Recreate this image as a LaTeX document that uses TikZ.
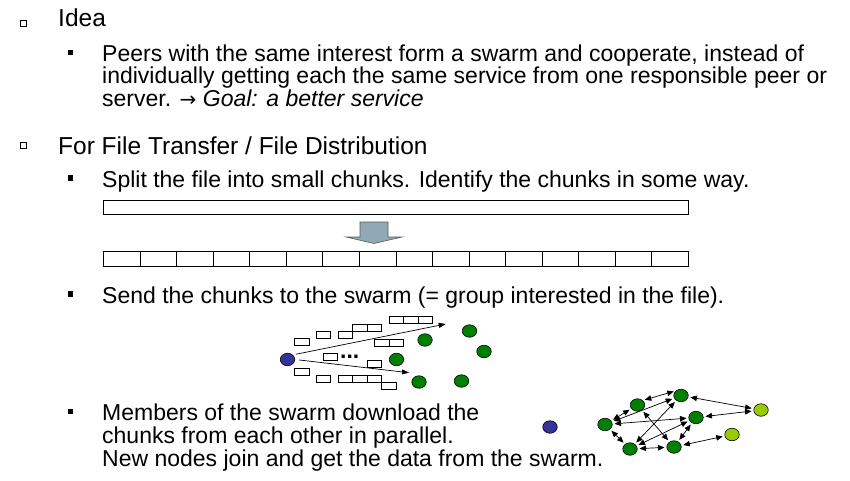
\documentclass[tikz,border=0pt]{standalone}
\usepackage{fontspec}
\setmainfont{Liberation Sans}
\newfontfamily\symbfont{DejaVu Sans}
\usetikzlibrary{arrows.meta,shadows,shapes.geometric}

\definecolor{seedblue}{RGB}{51,51,153}
\definecolor{peergreen}{RGB}{0,128,0}
\definecolor{newgreen}{RGB}{153,204,0}
\definecolor{arrowgray}{RGB}{143,170,180}

\tikzset{
  lvone/.style={anchor=base west, inner sep=0pt, font=\fontsize{24.5}{26}\selectfont},
  lvtwo/.style={anchor=base west, inner sep=0pt, font=\fontsize{23}{23}\selectfont},
  bulone/.style={draw, fill=white, line width=0.6pt, minimum size=5.5pt, inner sep=0pt,
    drop shadow={shadow xshift=1.2pt, shadow yshift=-1.2pt, opacity=1, fill=black}},
  bultwo/.style={fill=black, minimum size=5.5pt, inner sep=0pt},
  chunk/.style={draw, line width=0.7pt, fill=white},
  peer/.style={ellipse, draw, line width=0.6pt, fill=peergreen,
    minimum width=14.5pt, minimum height=12.5pt, inner sep=0pt},
  seed/.style={peer, fill=seedblue},
  newpeer/.style={peer, fill=newgreen},
  send/.style={-{Triangle[length=7pt,width=5pt]}, line width=0.7pt},
  swap/.style={{Triangle[length=6.5pt,width=5.5pt]}-{Triangle[length=6.5pt,width=5.5pt]},
    line width=0.7pt, shorten >=2pt, shorten <=2pt}
}

\begin{document}
\begin{tikzpicture}[x=1pt,y=-1pt]
\useasboundingbox (0,0) rectangle (850,481);

% idea
\node[bulone] (bidea) at (23.5,23.3) {};
\node[lvone] (idea) at (58,26.7) {Idea};
\node[bultwo] (bpeers) at (70.5,52.5) {};
\node[lvtwo] (peers1) at (102,61.3) {Peers with the same interest form a swarm and cooperate, instead of};
\node[lvtwo] (peers2) at (102,84) {individually getting each the same service from one responsible peer or};
\node[lvtwo] (peers3) at (102,106.5) {server. {\symbfont\fontsize{20}{20}\selectfont →} \textit{Goal: a better service}};

% file transfer
\node[bulone] (bfile) at (23.5,145.5) {};
\node[lvone] (filetr) at (58,154.5) {For File Transfer / File Distribution};
\node[bultwo] (bsplit) at (70.5,178) {};
\node[lvtwo] (split) at (102,187) {Split the file into small chunks. Identify the chunks in some way.};

% whole file, block arrow, chunks
\node[chunk, anchor=north west, minimum width=585pt, minimum height=14pt, inner sep=0pt] (file) at (103,200) {};
\draw[fill=arrowgray, draw=gray!70!black, line width=0.6pt]
  (360,222) -- (388,222) -- (388,237) -- (402,237) -- (374,243.5) -- (346,237) -- (360,237) -- cycle;
\foreach \i in {0,...,15}
  \node[chunk, anchor=north west, minimum width=36.5625pt, minimum height=14.5pt, inner sep=0pt]
    (c\i) at (103+\i*36.5625,251) {};

\node[bultwo] (bsend) at (70.5,294) {};
\node[lvtwo] (send) at (102,303) {Send the chunks to the swarm (= group interested in the file).};

% sending to the swarm
\foreach \x/\y in {389/316,403.5/316,418/316,352.5/324,367/324,316/331.5,338/331.5,294.5/338,
  374.5/339,389/339,323/353,367/360,294.5/368,316/375,338/375,352.5/375,367/375,381.5/382}
  \draw[chunk] (\x,\y) rectangle ++(14.5,7);
\node[anchor=base west, inner sep=0pt, font=\fontsize{23}{23}\selectfont\bfseries] (dots) at (340,358) {...};
\node[seed] (s) at (287.5,359.5) {};
\node[peer] (p1) at (425,340) {};
\node[peer] (p2) at (469.5,331) {};
\node[peer] (p3) at (484,351.5) {};
\node[peer] (p4) at (396.5,359.5) {};
\node[peer] (p5) at (419,382) {};
\node[peer] (p6) at (461.5,381) {};
\coordinate (t1) at (445.7,324);
\coordinate (t2) at (409,372.7);
\draw[send, shorten <=3pt] (s.north east) -- (t1);
\draw[send, shorten <=4pt] (s.east) -- (t2);

% members
\node[bultwo] (bmemb) at (70.5,411.5) {};
\node[lvtwo] (memb1) at (102,420) {Members of the swarm download the};
\node[lvtwo] (memb2) at (102,443) {chunks from each other in parallel.};
\node[lvtwo] (memb3) at (102,466) {New nodes join and get the data from the swarm.};

% swarm
\node[seed] (s2) at (550,427) {};
\node[peer] (A) at (605,424.5) {};
\node[peer] (B) at (637.5,405) {};
\node[peer] (C) at (681,395.5) {};
\node[peer] (D) at (696,417.5) {};
\node[peer] (E) at (630,449) {};
\node[peer] (F) at (674,447) {};
\node[newpeer] (G) at (761,410) {};
\node[newpeer] (H) at (732,434.5) {};
\draw[swap] (B.north east) -- (C.north west);
\draw[swap] (A) -- (B);
\draw[swap] (A) -- (C);
\draw[swap] (A) -- (D);
\draw[swap] (C) -- (G);
\draw[swap] (D) -- (G);
\draw[swap] (A) -- (E);
\draw[swap] (E) -- (F);
\draw[swap] (F) -- (H);
\draw[swap] (F) -- (D);
\draw[swap] (B) -- (F);
\draw[swap] (E) -- (C);
\draw[swap] (E) -- (D);
\end{tikzpicture}
\end{document}
